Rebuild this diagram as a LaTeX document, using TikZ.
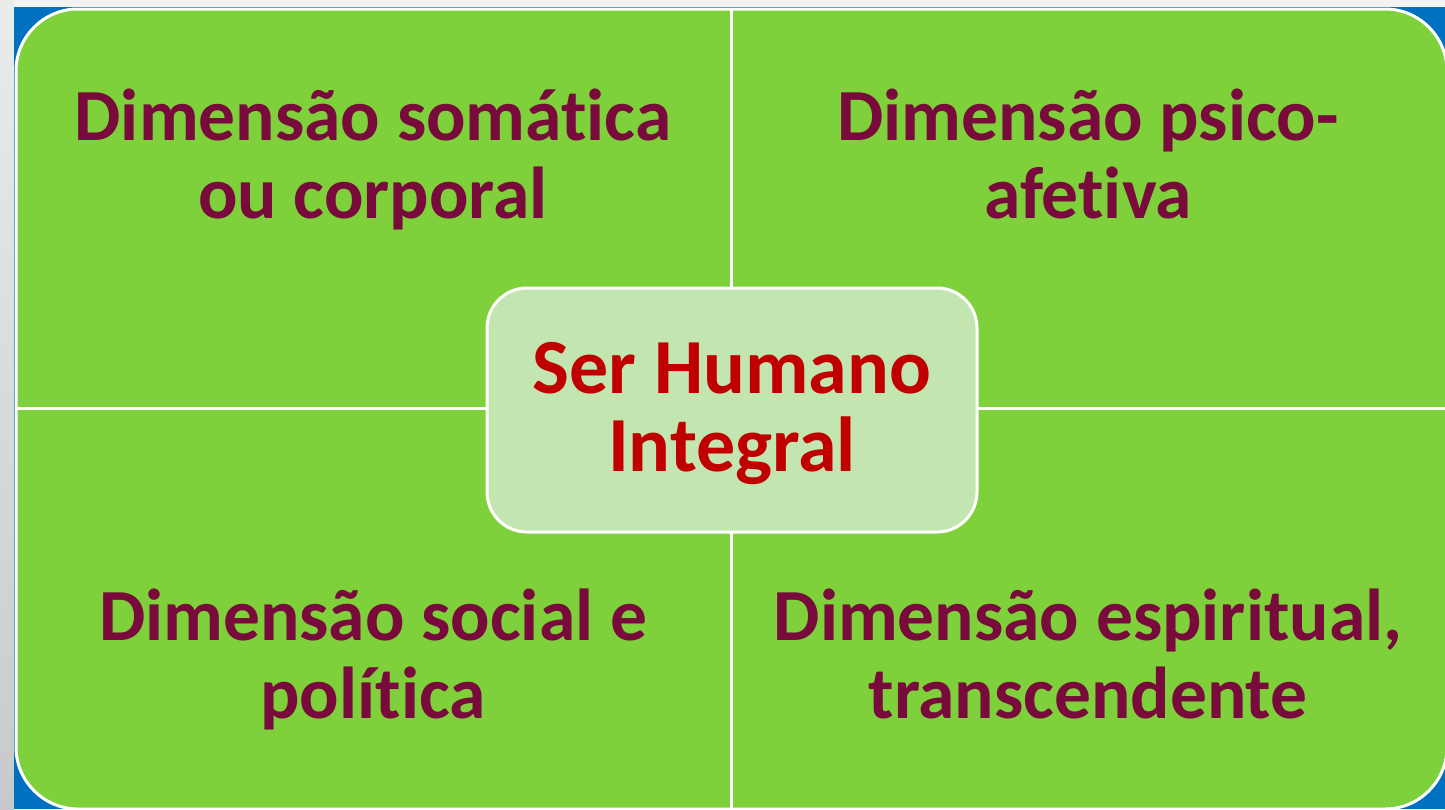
\documentclass[tikz,border=0pt]{standalone}
\usepackage{fontspec}
\setmainfont[Ligatures={NoRequired,NoCommon,NoContextual,NoRare}, Contextuals=NoAlternate]{Carlito}
\usetikzlibrary{positioning}
\definecolor{quadgreen}{RGB}{127, 209, 59}
\definecolor{centergreen}{RGB}{195, 229, 176}
\definecolor{frameblue}{RGB}{0, 112, 192}
\definecolor{dimmaroon}{RGB}{120, 10, 60}
\definecolor{corered}{RGB}{192, 0, 0}
\definecolor{stripetop}{RGB}{234, 235, 235}
\definecolor{stripebottom}{RGB}{200, 201, 203}

\begin{document}
\begin{tikzpicture}[
    x=1pt, y=-1pt,
    dimtext/.style={font=\fontsize{73.5}{78}\selectfont\bfseries, text=dimmaroon, align=center, inner sep=0pt, anchor=base},
    coretext/.style={font=\fontsize{78}{78}\selectfont\bfseries, text=corered, align=center},
    corebox/.style={rectangle, draw=white, line width=3pt, fill=centergreen, rounded corners=40pt, minimum width=490pt, minimum height=244pt},
    divider/.style={draw=white, line width=3pt}
]
    \useasboundingbox (0,0) rectangle (1445,809);

    % Slide background
    \shade[top color=stripetop, bottom color=stripebottom] (0,0) rectangle (14,809);
    \fill[stripetop!60!white] (14,0) rectangle (1445,7);
    \fill[frameblue] (14,7) rectangle (1445,809);

    % Matrix of four dimensions
    \filldraw[fill=quadgreen, draw=white, line width=3pt, rounded corners=62pt] (16,9) rectangle (1447,809);
    \coordinate (midtop) at (731,9);
    \coordinate (midbottom) at (731,809);
    \coordinate (midleft) at (16,408);
    \coordinate (midright) at (1447,408);
    \draw[divider] (midtop) -- (midbottom);
    \draw[divider] (midleft) -- (midright);

    \node[dimtext] (somatic) at (373,218) {Dimensão somática\\ou corporal};
    \node[dimtext] (psycho) at (1088,218) {Dimensão psico-\\afetiva};
    \node[dimtext] (social) at (373,718) {Dimensão social e\\política};
    \node[dimtext] (spirit) at (1088,718) {Dimensão espiritual,\\transcendente};

    % Center
    \node[corebox] (core) at (732,410) {};
    \node[coretext] (corelabel) at ([yshift=-4pt]core.center) {Ser Humano\\Integral};
\end{tikzpicture}
\end{document}
